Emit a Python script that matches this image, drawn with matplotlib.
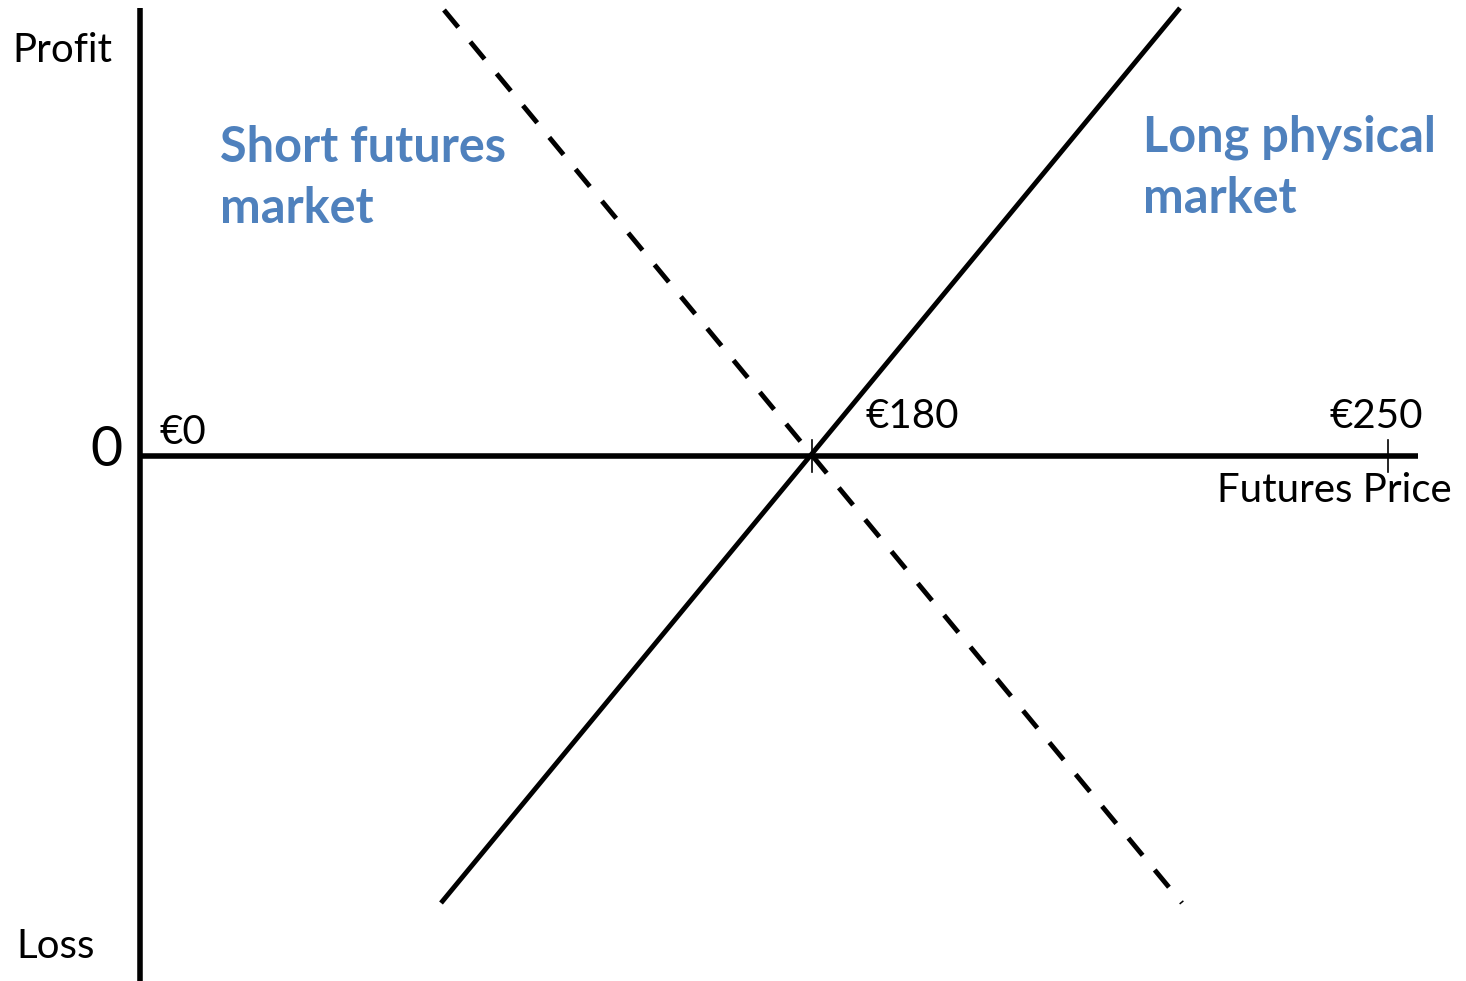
import matplotlib
matplotlib.use('Agg')
from matplotlib import pyplot as plt

# schematic x positions (axis units), profit/loss in axis units
price_labels = ['€0', '€180', '€250']
price_pos = [0, 672, 1248]

long_x = [301, 1040]
long_y = [-447, 448]
short_x = [304, 1042]
short_y = [446, -447]

blue = '#4F81BD'
plt.rcParams['font.family'] = ['Lato', 'DejaVu Sans']

fig = plt.figure(figsize=(14.66, 9.81), dpi=100)
ax = fig.add_axes([0, 0, 1, 1])
ax.set_xlim(-140, 1326)
ax.set_ylim(-525, 456)
ax.axis('off')

# axes
ax.plot([0, 0], [-525, 448], color='black', lw=4, solid_capstyle='butt')
ax.plot([0, 1278], [0, 0], color='black', lw=4, solid_capstyle='butt')

# ticks
for p in price_pos[1:]:
    ax.plot([p, p], [-16, 16], color='black', lw=1.2)

ax.plot(long_x, long_y, color='black', lw=3.5, solid_capstyle='butt')
ax.plot(short_x, short_y, color='black', lw=3.5, dashes=(4.6, 3.9), dash_capstyle='butt')

# labels
fs = 29
ax.text(-128, 406, 'Profit', fontsize=fs, va='center', ha='left')
ax.text(-124, -490, 'Loss', fontsize=fs, va='center', ha='left')
ax.text(-18, 5, '0', fontsize=40, va='center', ha='right')
ax.text(20, 24, price_labels[0], fontsize=fs, va='center', ha='left')
ax.text(725, 40, price_labels[1], fontsize=fs, va='center', ha='left')
ax.text(price_pos[2] - 12, 40, price_labels[2], fontsize=fs, va='center', ha='center')
ax.text(1312, -35, 'Futures Price', fontsize=fs, va='center', ha='right')

ax.text(80, 278, 'Short futures\nmarket', fontsize=35, fontweight='bold',
        color=blue, va='center', ha='left', linespacing=1.42)
ax.text(1003, 288, 'Long physical\nmarket', fontsize=35, fontweight='bold',
        color=blue, va='center', ha='left', linespacing=1.42)

fig.savefig('out.png', dpi=100)
